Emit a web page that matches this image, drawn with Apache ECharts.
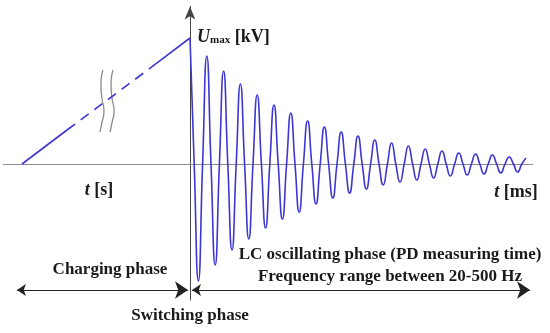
<!DOCTYPE html>
<html>
<head>
<meta charset="utf-8">
<script src="https://cdn.jsdelivr.net/npm/echarts@6/dist/echarts.min.js"></script>
<style>html,body{margin:0;padding:0;background:#fff}#c{width:550px;height:333px}</style>
</head>
<body>
<div id="c"></div>
<script>
// ---- data (t in oscillation periods, 0 = switching instant; U normalised to Umax = 1) ----
const rampStart = [-10, 0];
const rampDashFrom = [-7.32, 0.27];
const rampDashTo = [-2.08, 0.79];
const rampEnd = [0, 1];
// positive peaks at t = 0,1,2,...,20
const peakAmp = [1.0, 0.857, 0.738, 0.635, 0.548, 0.468, 0.405, 0.341, 0.294, 0.254, 0.222,
                 0.19, 0.167, 0.143, 0.119, 0.103, 0.087, 0.079, 0.071, 0.056, 0.048];
// negative troughs at t = 0.5,1.5,...,19.5
const troughAmp = [0.929, 0.802, 0.683, 0.595, 0.508, 0.437, 0.381, 0.317, 0.27, 0.23,
                   0.198, 0.167, 0.143, 0.127, 0.111, 0.095, 0.087, 0.079, 0.071, 0.063];
const period = 1;
// break marks on the time axis (t centre, U range)
const breakCentres = [-5.24, -4.64];
const breakShape = [[0.06, 0.746], [-0.06, 0.63], [0.0, 0.52], [0.12, 0.42], [0.0, 0.33], [-0.12, 0.254]];
// phase arrows
const chargingArrow = [[-10.3, -1.0], [-0.12, -1.0]];
const oscArrow = [[0.12, -1.0], [20.24, -1.0]];

// ---- build wave from read extrema ----
const wave = [];
for (let i = 0; i < troughAmp.length; i++) {
  const t0 = i * period;
  wave.push([t0, peakAmp[i]]);
  wave.push([t0 + period / 4, 0]);
  wave.push([t0 + period / 2, -troughAmp[i]]);
  wave.push([t0 + 3 * period / 4, 0]);
}
wave.push([troughAmp.length * period, peakAmp[troughAmp.length]]);

const breakSeries = breakCentres.map(c => ({
  type: 'line', data: breakShape.map(p => [c + p[0], p[1]]), smooth: 0.6,
  symbol: 'none', lineStyle: {color: '#8a8a8a', width: 1.3}, z: 3, silent: true
}));

const blue = '#3d36d4';
const font = '"Liberation Serif", "DejaVu Serif", serif';
const txtColor = '#1a1a1a';

const chart = echarts.init(document.getElementById('c'));
chart.setOption({
  animation: false,
  backgroundColor: '#fff',
  grid: {left: 3.52, top: 6.5, width: 529.2, height: 293.6},
  xAxis: {
    type: 'value', min: -11.1, max: 20.4,
    axisLine: {onZero: true, lineStyle: {color: '#8c8c8c', width: 1}},
    axisTick: {show: false}, axisLabel: {show: false}, splitLine: {show: false}
  },
  yAxis: {
    type: 'value', min: -1.08, max: 1.25,
    axisLine: {onZero: true, symbol: ['none', 'arrow'], symbolSize: [8, 13], lineStyle: {color: '#444', width: 1}},
    axisTick: {show: false}, axisLabel: {show: false}, splitLine: {show: false}
  },
  series: [
    {type: 'line', data: [rampStart, rampDashFrom], symbol: 'none', lineStyle: {color: blue, width: 1.6}, z: 4},
    {type: 'line', data: [rampDashFrom, rampDashTo], symbol: 'none', lineStyle: {color: blue, width: 1.6, type: [10, 7]}, z: 4},
    {type: 'line', data: [rampDashTo, rampEnd], symbol: 'none', lineStyle: {color: blue, width: 1.6}, z: 4},
    {type: 'line', data: wave, smooth: 0.55, symbol: 'none', lineStyle: {color: blue, width: 1.6}, z: 5},
    ...breakSeries,
    {type: 'lines', coordinateSystem: 'cartesian2d', symbol: ['arrow', 'arrow'], symbolSize: [9, 13],
     lineStyle: {color: '#222', width: 1, opacity: 1}, z: 4,
     data: [{coords: chargingArrow}, {coords: oscArrow}]}
  ],
  graphic: [
    {type: 'text', left: 197, top: 28, z: 10, style: {
      text: '{u|U}{m|max}{k| [kV]}', fill: txtColor,
      rich: {
        u: {fontFamily: font, fontSize: 18, fontWeight: 'bold', fontStyle: 'italic', fill: txtColor, verticalAlign: 'bottom', lineHeight: 20},
        m: {fontFamily: font, fontSize: 11, fontWeight: 'bold', fill: txtColor, verticalAlign: 'bottom', lineHeight: 18},
        k: {fontFamily: font, fontSize: 18, fontWeight: 'bold', fill: txtColor, verticalAlign: 'bottom', lineHeight: 20}
      }}},
    {type: 'text', x: 99, y: 190, z: 10, style: {
      text: '{i|t}{n| [s]}', align: 'center', verticalAlign: 'middle',
      rich: {
        i: {fontFamily: font, fontSize: 18, fontWeight: 'bold', fontStyle: 'italic', fill: txtColor},
        n: {fontFamily: font, fontSize: 18, fontWeight: 'bold', fill: txtColor}
      }}},
    {type: 'text', x: 516, y: 192, z: 10, style: {
      text: '{i|t}{n| [ms]}', align: 'center', verticalAlign: 'middle',
      rich: {
        i: {fontFamily: font, fontSize: 18, fontWeight: 'bold', fontStyle: 'italic', fill: txtColor},
        n: {fontFamily: font, fontSize: 18, fontWeight: 'bold', fill: txtColor}
      }}},
    {type: 'text', x: 110, y: 270, z: 10, style: {text: 'Charging phase', font: 'bold 17px ' + font, fill: txtColor, align: 'center', verticalAlign: 'middle'}},
    {type: 'text', x: 190, y: 316, z: 10, style: {text: 'Switching phase', font: 'bold 17px ' + font, fill: txtColor, align: 'center', verticalAlign: 'middle'}},
    {type: 'text', x: 390, y: 255, z: 10, style: {text: 'LC oscillating phase (PD measuring time)', font: 'bold 17px ' + font, fill: txtColor, align: 'center', verticalAlign: 'middle'}},
    {type: 'text', x: 390, y: 277, z: 10, style: {text: 'Frequency range between 20-500 Hz', font: 'bold 17px ' + font, fill: txtColor, align: 'center', verticalAlign: 'middle'}}
  ]
});
</script>
</body>
</html>
